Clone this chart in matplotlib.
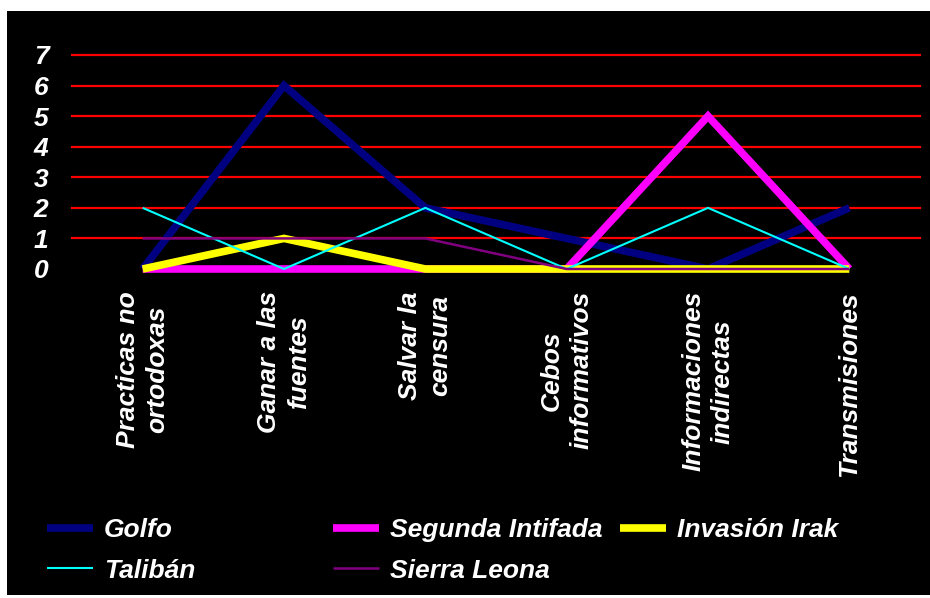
import matplotlib
matplotlib.use("Agg")
import matplotlib.pyplot as plt
from matplotlib.patches import Rectangle

plt.rcParams['font.family'] = ['Liberation Sans', 'DejaVu Sans']

categories = ["Practicas no\nortodoxas", "Ganar a las\nfuentes", "Salvar la\ncensura",
              "Cebos\ninformativos", "Informaciones\nindirectas", "Transmisiones"]
golfo = [0, 6, 2, 1, 0, 2]
segunda_intifada = [0, 0, 0, 0, 5, 0]
invasion_irak = [0, 1, 0, 0, 0, 0]
taliban = [2, 0, 2, 0, 2, 0]
sierra_leona = [1, 1, 1, 0, 0, 0]
yticks = [0, 1, 2, 3, 4, 5, 6, 7]

series = [
    ("Golfo", golfo, "#000080", 5.5),
    ("Segunda Intifada", segunda_intifada, "#FF00FF", 5.5),
    ("Invasión Irak", invasion_irak, "#FFFF00", 5.5),
    ("Talibán", taliban, "#00FFFF", 1.5),
    ("Sierra Leona", sierra_leona, "#800080", 1.8),
]

W, H = 930, 598
fig = plt.figure(figsize=(W / 100, H / 100), dpi=100, facecolor="white")
fig.patches.append(Rectangle((7 / W, 3 / H), 1 - 7 / W, 1 - 14 / H,
                             transform=fig.transFigure, facecolor="black",
                             edgecolor="none", zorder=-10))

ax = fig.add_axes([72 / W, 1 - 269 / H, (920 - 72) / W, (269 - 55) / H])
ax.patch.set_alpha(0)

x = list(range(len(categories)))
handles = {}
for name, vals, col, lw in series:
    ln, = ax.plot(x, vals, color=col, lw=lw, solid_joinstyle="miter",
                  solid_capstyle="butt", label=name, clip_on=False)
    handles[name] = ln

ax.set_xlim(-0.5, len(categories) - 0.5)
ax.set_ylim(0, 7)
ax.set_yticks(yticks)
for v in yticks[1:]:
    ax.axhline(v, color="#FF0000", lw=1.6, zorder=0, clip_on=False)

ax.set_xticks(x)
ax.set_xticklabels(categories, rotation=90, ha="center", va="top",
                   multialignment="center", linespacing=1.3)
for s in ax.spines.values():
    s.set_visible(False)
ax.tick_params(axis="both", length=0, colors="white", labelsize=19)
ax.tick_params(axis="y", pad=17)
ax.tick_params(axis="x", pad=16)
for lbl in ax.get_xticklabels() + ax.get_yticklabels():
    lbl.set_fontweight("bold")
    lbl.set_fontstyle("italic")

# legend laid out in fixed columns like the original
columns = [(["Golfo", "Talibán"], 47), (["Segunda Intifada", "Sierra Leona"], 333),
           (["Invasión Irak"], 620)]
for names, xpx in columns:
    leg = fig.legend([handles[n] for n in names], names, loc="upper left",
                     bbox_to_anchor=(xpx / W, 1 - 518 / H), frameon=False,
                     borderpad=0, borderaxespad=0, handlelength=1.75,
                     handletextpad=0.4, labelspacing=0.63,
                     prop={"size": 19, "weight": "bold", "style": "italic"})
    for t in leg.get_texts():
        t.set_color("white")

fig.savefig("out.png", dpi=100, facecolor="white")
